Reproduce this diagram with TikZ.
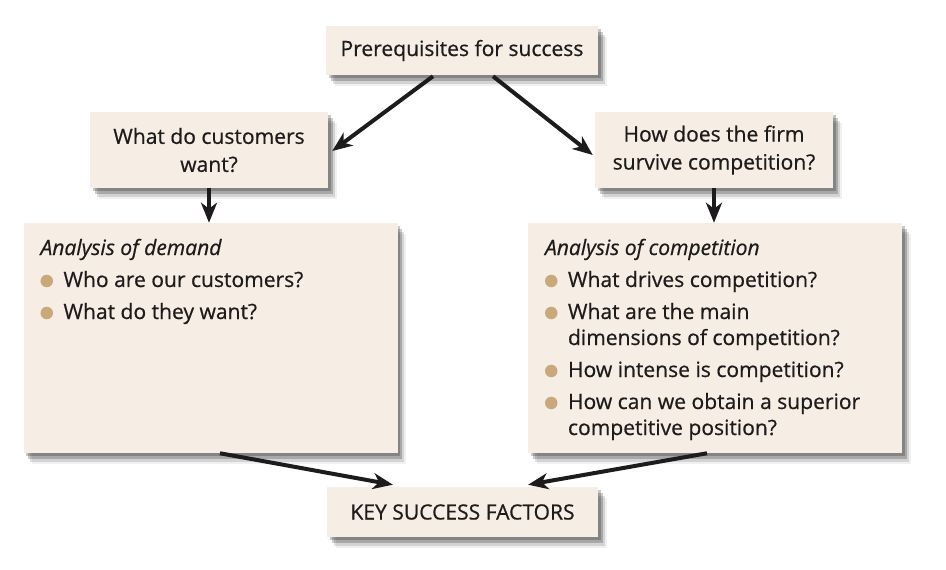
\documentclass[tikz,border=0pt]{standalone}
\usepackage{fontspec}
\setmainfont{Open Sans}[FakeBold=0.6]
\usepackage{tikz}
\usetikzlibrary{shadows}
\usetikzlibrary{arrows.meta}
\usetikzlibrary{calc}
\definecolor{boxfill}{RGB}{246,238,228}
\definecolor{dotfill}{RGB}{201,168,124}
\definecolor{inkc}{RGB}{30,27,28}
\newcommand{\bul}[1]{\par\hangindent=17.25pt\hangafter=1\noindent\makebox[17.25pt][l]{\tikz[baseline=-4.5pt]\fill[dotfill] (0,0) circle (4.7pt);}#1}
\newcommand{\brk}{\hfill\break}
\newcommand{\listbox}[1]{\parbox[c][172.5pt][t]{255pt}{\raggedright\setlength{\parskip}{4.5pt}#1}}

\begin{document}
\begin{tikzpicture}[x=0.75pt, y=-0.75pt,
    softshadow/.style={drop shadow={shadow xshift=2pt, shadow yshift=-2.5pt, fill=black, opacity=.22},
                       drop shadow={shadow xshift=3.5pt, shadow yshift=-4.5pt, fill=black, opacity=.2},
                       drop shadow={shadow xshift=5pt, shadow yshift=-6.5pt, fill=black, opacity=.12},
                       drop shadow={shadow xshift=6.5pt, shadow yshift=-8pt, fill=black, opacity=.06}},
    box/.style={fill=boxfill, softshadow, text=inkc, align=center, inner sep=0pt,
                font=\fontsize{15.8pt}{21pt}\selectfont},
    qbox/.style={box, minimum width=178.5pt, minimum height=57pt},
    bigbox/.style={box, minimum width=273.75pt, minimum height=172.5pt, inner xsep=12.75pt,
                   font=\fontsize{15.8pt}{19.5pt}\selectfont},
    arr/.style={-{Stealth[length=15pt, width=12pt, inset=4.5pt]}, line width=3pt, draw=inkc}]
      \useasboundingbox (0,0) rectangle (946,570);
      \node[box, minimum width=204pt, minimum height=36.75pt] (pre) at (462,50.5) {Prerequisites for success};
      \node[qbox] (cust) at (209,150) {What do customers\\want?};
      \node[qbox] (firm) at (714,150) {How does the firm\\survive competition?};
      \node[bigbox] (dem) at (210.5,338) {\listbox{\rule{0pt}{24pt}\textit{Analysis of demand}
        \bul{Who are our customers?}
        \bul{What do they want?}}};
      \node[bigbox] (comp) at (715,338) {\listbox{\rule{0pt}{24pt}\textit{Analysis of competition}
        \bul{What drives competition?}
        \bul{What are the main\brk dimensions of competition?}
        \bul{How intense is competition?}
        \bul{How can we obtain a superior\brk competitive position?}}};
      \node[box, minimum width=203pt, minimum height=37.5pt] (ksf) at (462.5,512) {KEY SUCCESS FACTORS};
      \draw[arr] ($(pre.south)+(-29,1)$) -- ($(cust.east)+(4,1)$);
      \draw[arr] ($(pre.south)+(31,1)$) -- ($(firm.west)+(-2,5)$);
      \draw[arr] (cust.south) -- (cust.south |- dem.north);
      \draw[arr] (firm.south) -- (firm.south |- comp.north);
      \draw[arr] ($(dem.south)+(9.5,0)$) -- ($(ksf.north west)+(66,-2)$);
      \draw[arr] ($(comp.south)+(-8,0)$) -- ($(ksf.north east)+(-70,-2)$);
    \end{tikzpicture}
\end{document}
